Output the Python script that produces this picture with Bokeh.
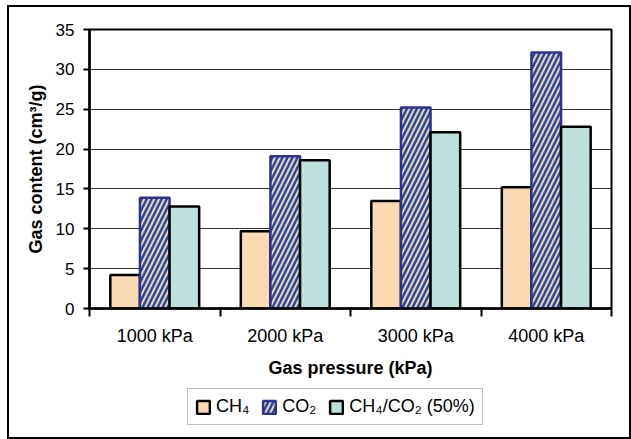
from bokeh.plotting import figure
from bokeh.models import (ColumnDataSource, FixedTicker, Range1d, Legend, LegendItem)
from bokeh.layouts import column
from bokeh.transform import dodge
from bokeh.embed import file_html
from bokeh.resources import INLINE

# ---- data ----
categories = ["1000 kPa", "2000 kPa", "3000 kPa", "4000 kPa"]
ch4 = [4.2, 9.7, 13.5, 15.2]
co2 = [13.9, 19.1, 25.2, 32.1]
mix = [12.8, 18.6, 22.1, 22.8]
series_labels = ["CH\u2084", "CO\u2082", "CH\u2084/CO\u2082 (50%)"]
y_ticks = [0, 5, 10, 15, 20, 25, 30, 35]

FONT = "Liberation Sans"
centers = [i + 0.5 for i in range(len(categories))]
src = ColumnDataSource(dict(x=centers, ch4=ch4, co2=co2, mix=mix))

STY = [
    dict(fill_color="#F9DAB2", line_color="black", line_width=2.5),
    dict(fill_color="#F8CFA0", line_color="#2E3192", line_width=2.5,
         hatch_pattern="/", hatch_color="#1F4FA8", hatch_weight=2.5, hatch_scale=10),
    dict(fill_color="#BDE0DD", line_color="black", line_width=2.5),
]

p = figure(width=620, height=378, x_range=Range1d(0, len(categories)),
           y_range=Range1d(y_ticks[0], y_ticks[-1]),
           output_backend="svg", toolbar_location=None,
           min_border_left=80, min_border_right=18, min_border_top=22,
           min_border_bottom=77)
p.background_fill_color = "white"
p.border_fill_color = "white"
p.outline_line_color = "black"
p.outline_line_width = 2
p.styles = {"box-shadow": "-2px 0 0 0 #000, 2px 0 0 0 #000, 0 -2px 0 0 #000, "
                          "-2px -2px 0 0 #000, 2px -2px 0 0 #000"}

bw = 0.227
p.vbar(x=dodge("x", -bw, range=p.x_range), top="ch4", width=bw, source=src, **STY[0])
p.vbar(x=dodge("x", 0, range=p.x_range), top="co2", width=bw, source=src, **STY[1])
p.vbar(x=dodge("x", bw, range=p.x_range), top="mix", width=bw, source=src, **STY[2])

# axes
p.xgrid.visible = False
p.ygrid.grid_line_color = "#333333"
p.ygrid.grid_line_width = 1

p.yaxis.ticker = FixedTicker(ticks=y_ticks)
p.yaxis.axis_line_width = 2.5
p.yaxis.axis_line_color = "black"
p.yaxis.major_tick_out = 6
p.yaxis.major_tick_in = 0
p.yaxis.major_tick_line_width = 2
p.yaxis.minor_tick_line_color = None
p.yaxis.major_label_standoff = 9
p.yaxis.major_label_text_font = FONT
p.yaxis.major_label_text_font_size = "17px"
p.yaxis.major_label_text_color = "black"
p.yaxis.axis_label = "Gas content (cm\u00b3/g)"
p.yaxis.axis_label_text_font = FONT
p.yaxis.axis_label_text_font_style = "bold"
p.yaxis.axis_label_text_font_size = "18px"
p.yaxis.axis_label_text_color = "black"
p.yaxis.axis_label_standoff = 7

p.xaxis.ticker = FixedTicker(ticks=centers, minor_ticks=list(range(len(categories) + 1)))
p.xaxis.major_label_overrides = {c: lab for c, lab in zip(centers, categories)}
p.xaxis.axis_line_width = 2.5
p.xaxis.axis_line_color = "black"
p.xaxis.major_tick_out = 0
p.xaxis.major_tick_in = 0
p.xaxis.major_tick_line_color = None
p.xaxis.minor_tick_out = 8
p.xaxis.minor_tick_in = 0
p.xaxis.minor_tick_line_width = 2
p.xaxis.minor_tick_line_color = "black"
p.xaxis.major_label_standoff = 9
p.xaxis.major_label_text_font = FONT
p.xaxis.major_label_text_font_size = "18px"
p.xaxis.major_label_text_color = "black"
p.xaxis.axis_label = "Gas pressure (kPa)"
p.xaxis.axis_label_text_font = FONT
p.xaxis.axis_label_text_font_style = "bold"
p.xaxis.axis_label_text_font_size = "18px"
p.xaxis.axis_label_text_color = "black"
p.xaxis.axis_label_standoff = 9

# legend in its own strip below the chart (proxy glyphs have no drawable geometry)
lf = figure(width=620, height=52, x_range=Range1d(0, 1), y_range=Range1d(0, 1),
            output_backend="svg", toolbar_location=None,
            x_axis_type=None, y_axis_type=None,
            min_border_left=0, min_border_right=0, min_border_top=0, min_border_bottom=0)
lf.outline_line_color = None
lf.xgrid.visible = False
lf.ygrid.visible = False
lf.border_fill_color = "white"
lf.background_fill_color = "white"
lf.styles = {"box-shadow": "-2px 0 0 0 #000, 2px 0 0 0 #000, 0 2px 0 0 #000, "
                           "-2px 2px 0 0 #000, 2px 2px 0 0 #000"}
proxy = ColumnDataSource(dict(x=[float("nan")], bottom=[float("nan")], top=[float("nan")]))
lr = [lf.vbar(x="x", bottom="bottom", top="top", width=0.1, source=proxy, **s) for s in STY]

legend = Legend(items=[LegendItem(label=lab, renderers=[r]) for lab, r in zip(series_labels, lr)],
                orientation="horizontal", location=(98, 12))
legend.label_text_font = FONT
legend.label_text_font_size = "18px"
legend.label_text_color = "black"
legend.glyph_width = 16
legend.glyph_height = 16
legend.label_standoff = 5
legend.spacing = 12
legend.padding = 7
legend.margin = 0
legend.border_line_color = "#808080"
legend.border_line_width = 1.5
legend.background_fill_color = "white"
lf.add_layout(legend, "center")

layout = column(p, lf, spacing=0)
layout.styles = {"margin-left": "9px", "margin-top": "7px"}

open("out.html", "w").write(file_html(layout, INLINE))
